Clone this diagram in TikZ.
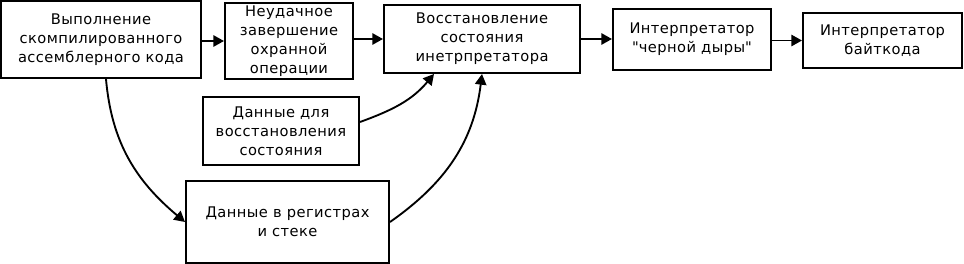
\documentclass[tikz,border=0pt]{standalone}
\usepackage{fontspec}
\setmainfont{DejaVu Sans}[LetterSpace=3]
\usetikzlibrary{arrows.meta}
\begin{document}
\begin{tikzpicture}[x=0.75pt,y=-0.75pt,
  box/.style={draw,line width=1.5pt,inner sep=0pt,align=center,
    font=\fontsize{11}{14.2}\selectfont},
  arr/.style={line width=1.4pt,-{Triangle[length=8pt,width=8.5pt]}}]
\useasboundingbox (0,0) rectangle (964,264);
\node[box,minimum width=200*0.75pt,minimum height=77*0.75pt] (A) at (101,39.5)
  {Выполнение\\скомпилированного\\ассемблерного кода};
\node[box,minimum width=128*0.75pt,minimum height=76*0.75pt] (B) at (289,41)
  {Неудачное\\завершение\\охранной\\операции};
\node[box,minimum width=196*0.75pt,minimum height=68*0.75pt] (C) at (482,39)
  {Восстановление\\состояния\\инетрпретатора};
\node[box,minimum width=158*0.75pt,minimum height=61*0.75pt] (D) at (692,39.5)
  {Интерпретатор\\\textquotedbl черной дыры\textquotedbl};
\node[box,minimum width=159*0.75pt,minimum height=55*0.75pt] (E) at (882.5,40.5)
  {Интерпретатор\\байткода};
\node[box,minimum width=156*0.75pt,minimum height=68*0.75pt] (F) at (281,131)
  {Данные для\\восстановления\\состояния};
\node[box,minimum width=203*0.75pt,minimum height=82*0.75pt] (G) at (287.5,222)
  {Данные в регистрах\\и стеке};
\draw[arr] (A.east |- B) -- (B.west);
\draw[arr] (B.east |- C) -- (C.west);
\draw[arr] (C.east) -- (D.west |- C);
\draw[arr] (D.east |- E) -- (E.west);
\draw[arr] ([xshift=3.75pt]A.south) to[out=-85,in=140] (G.west);
\draw[arr] ([yshift=6.75pt]F.east) to[out=20,in=-130] ([xshift=-36pt]C.south);
\draw[arr] (G.east) to[out=35,in=-97] (C.south);
\end{tikzpicture}
\end{document}
